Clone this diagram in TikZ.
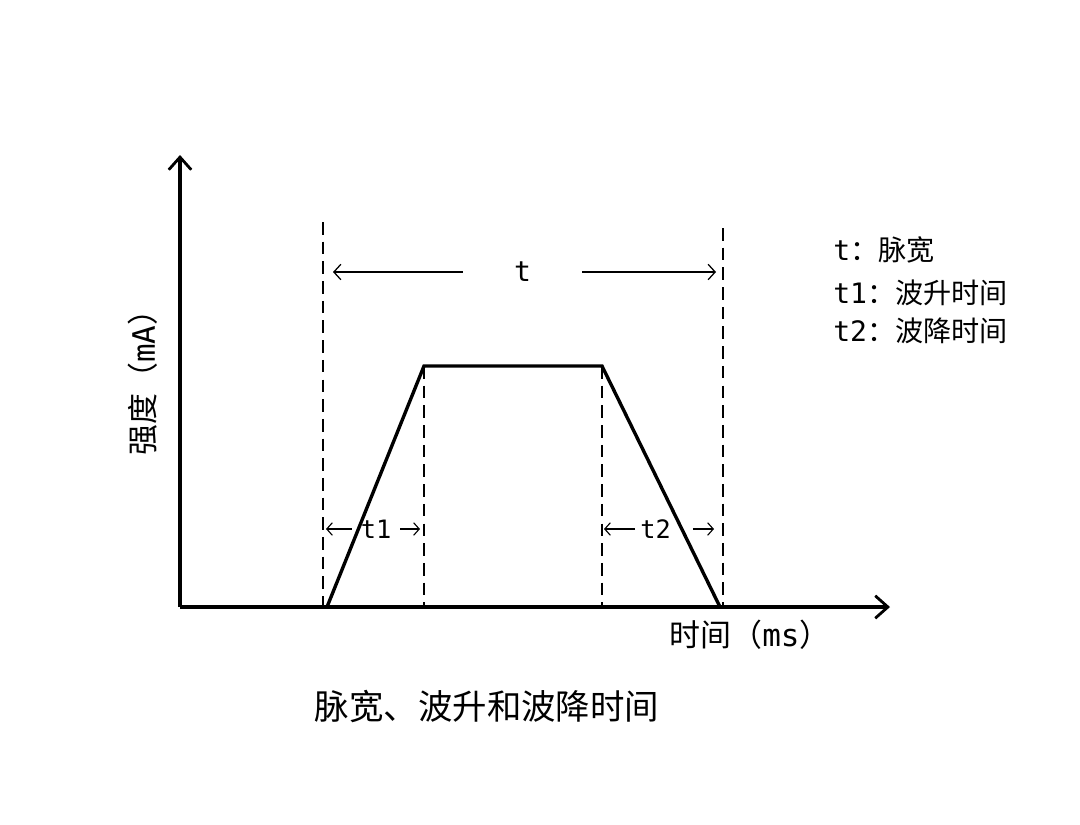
\documentclass[tikz,border=0pt]{standalone}
\usepackage{fontspec}
\setmainfont{Noto Sans CJK SC}
\newfontfamily\latinmono{DejaVu Sans Mono}
\usetikzlibrary{arrows.meta}

\begin{document}
\begin{tikzpicture}[x=0.025cm, y=-0.025cm,
	axis/.style={line width=2.2pt, -{Straight Barb[length=9pt, width=16pt, line width=2pt]}},
	pulse/.style={line width=2.4pt, line join=miter},
	guide/.style={line width=2pt, dash pattern=on 9pt off 5pt},
	dimarrow/.style={line width=0.9pt, -{Straight Barb[length=5pt, width=11pt, line width=0.9pt]}},
	smallarrow/.style={line width=0.8pt, -{Straight Barb[length=4pt, width=9pt, line width=0.8pt]}},
	label/.style={inner sep=0pt, font=\fontsize{20}{22}\selectfont},
	marklabel/.style={inner sep=0pt, font=\fontsize{18}{20}\selectfont}]
			\useasboundingbox (0, 0) rectangle (1080, 824);
			%%%%% START %%%%%
			% axes
			\coordinate (origin) at (180, 607);
			\coordinate (ytip) at (180, 155);
			\coordinate (xtip) at (890, 607);
			\draw[axis] (origin) -- (ytip);
			\draw[axis] (origin) -- (xtip);
			
			% pulse
			\coordinate (rise0) at (327, 607);
			\coordinate (rise1) at (424, 366);
			\coordinate (fall0) at (602, 366);
			\coordinate (fall1) at (720, 607);
			\draw[pulse] (rise0) -- (rise1) -- (fall0) -- (fall1);
			
			% guides
			\coordinate (gA) at (323, 222);
			\coordinate (gAb) at (323, 607);
			\coordinate (gB) at (424, 366);
			\coordinate (gBb) at (424, 607);
			\coordinate (gC) at (602, 366);
			\coordinate (gCb) at (602, 607);
			\coordinate (gD) at (723, 228);
			\coordinate (gDb) at (723, 607);
			\draw[guide] (gA) -- (gAb);
			\draw[guide] (gB) -- (gBb);
			\draw[guide] (gC) -- (gCb);
			\draw[guide] (gD) -- (gDb);
			
			% pulse width
			\node[label, minimum width=119*0.025cm] (tlab) at (522.5, 272) {\latinmono t};
			\coordinate (tL) at (333, 272);
			\coordinate (tR) at (716, 272);
			\draw[dimarrow] (tlab.west) -- (tL);
			\draw[dimarrow] (tlab.east) -- (tR);
			
			% rise time
			\node[marklabel, minimum width=48*0.025cm] (tone) at (376, 529) {\latinmono t1};
			\coordinate (t1L) at (326, 529);
			\coordinate (t1R) at (420, 529);
			\draw[smallarrow] (tone.west) -- (t1L);
			\draw[smallarrow] (tone.east) -- (t1R);
			
			% fall time
			\node[marklabel, minimum width=57*0.025cm] (ttwo) at (664, 529) {\hspace*{-12pt}\latinmono t2};
			\coordinate (t2L) at (604, 529);
			\coordinate (t2R) at (714, 529);
			\draw[smallarrow] (ttwo.west) -- (t2L);
			\draw[smallarrow] (ttwo.east) -- (t2R);
			
			% legend
			\node[label, anchor=west] (key0) at (833, 250) {{\latinmono t}：脉宽};
			\node[label, anchor=west] (key1) at (833, 293) {{\latinmono t1}：波升时间};
			\node[label, anchor=west] (key2) at (833, 331) {{\latinmono t2}：波降时间};
			
			% axis labels and caption
			\node[inner sep=0pt, font=\fontsize{22}{24}\selectfont, rotate=90] (ylab) at (143, 375) {强度（{\latinmono mA}）};
			\node[inner sep=0pt, font=\fontsize{22}{24}\selectfont] (xlab) at (750, 635) {时间（{\latinmono ms}）};
			\node[inner sep=0pt, font=\fontsize{24.5}{26}\selectfont] (caption) at (487, 706) {脉宽、波升和波降时间};
			%%%%% END %%%%%
\end{tikzpicture}
\end{document}
